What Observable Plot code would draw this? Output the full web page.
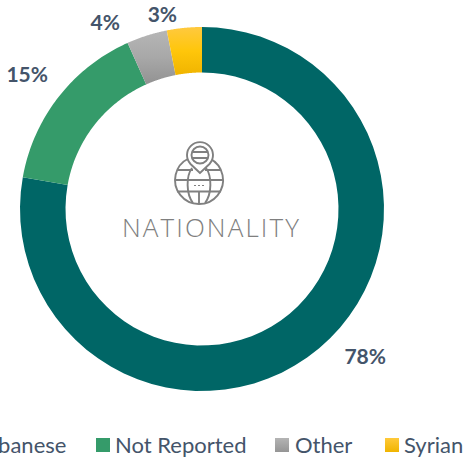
<!DOCTYPE html>
<html><head><meta charset="utf-8">
<script src="https://cdn.jsdelivr.net/npm/d3@7"></script>
<script src="https://cdn.jsdelivr.net/npm/@observablehq/plot@0.6"></script>
<style>
html,body{margin:0;padding:0;background:#fff;width:465px;height:458px;overflow:hidden}
#root{position:relative;width:465px;height:458px;overflow:hidden}
svg{display:block}
.lg{position:absolute;top:431px;font:22px/28px Lato,sans-serif;color:#44546a;white-space:nowrap}
.sw{position:absolute;top:438px;width:14px;height:14px}
</style></head><body><div id="root"></div>
<script>
const categories = ["Lebanese", "Not Reported", "Other", "Syrian"];
const shares = [77.8, 15.5, 3.6, 3.1];
const percentLabels = ["78%", "15%", "4%", "3%"];
const sliceFills = ["#006666", "#359b6a", "url(#gOther)", "url(#gSyrian)"];
const swatchFills = ["#006666", "#359b6a", "linear-gradient(#b4b4b4,#959595)", "linear-gradient(#ffc93a,#f0b400)"];

const rows = categories.map((name, i) => ({name, share: shares[i], label: percentLabels[i]}));
const pie = d3.pie().value(d => d.share).sort(null)(rows);

const R1 = 182, R0 = 136.5;
const ring = pie.flatMap(s => d3.range(0, 61).map(k => {
  const a = s.startAngle + (s.endAngle - s.startAngle) * k / 60;
  return {name: s.data.name, a};
}));

const labelPlace = {Lebanese: [132.3, 220], "Not Reported": [307.5, 221], Other: [332.4, 210], Syrian: [348.3, 198]};
const labels = rows.map(d => {
  const [deg, r] = labelPlace[d.name], t = deg * Math.PI / 180;
  return {...d, x: r * Math.sin(t), y: -r * Math.cos(t)};
});

function defs() {
  const s = d3.create("svg:g");
  const d = s.append("defs");
  [["gOther", "#b6b6b6", "#929292"], ["gSyrian", "#ffc93f", "#f0b400"]].forEach(([id, a, b]) => {
    const g = d.append("linearGradient").attr("id", id).attr("x1", 0).attr("x2", 0).attr("y1", 0).attr("y2", 1);
    g.append("stop").attr("offset", "0%").attr("stop-color", a);
    g.append("stop").attr("offset", "50%").attr("stop-color", id === "gSyrian" ? "#ffc60a" : "#a8a8a8");
    g.append("stop").attr("offset", "100%").attr("stop-color", b);
  });
  return s.node();
}

function icon() {
  const g = d3.create("svg:g")
    .attr("transform", "translate(199,180)")
    .attr("fill", "none").attr("stroke", "#808080").attr("stroke-width", 1.9);
  g.append("path").attr("d", "M-10.5,-21.5 A24,24 0 1 0 11,-21.3");
  g.append("path").attr("d", "M-22,-10 H-6 M6,-10 H22 M-24,0 H24 M-22,11.5 H22");
  g.append("path").attr("d", "M0,24 V11.5");
  g.append("path").attr("d", "M-7,-12 C-13,-4 -13,14 -6,23 M7,-12 C13,-4 13,14 6,23");
  g.append("path").attr("d", "M-5,5.5 H-3 M-1,5.5 H1 M3,5.5 H5").attr("stroke-width", 1.2);
  const pin = g.append("g").attr("transform", "translate(1,-25)");
  pin.append("path").attr("d", "M0,18 L-9.5,9 A13,13 0 1 1 9.5,9 Z").attr("fill", "#fff");
  pin.append("circle").attr("r", 8.5);
  pin.append("path").attr("d", "M-8,-3 H8 M-8,3 H8");
  return g.node();
}

const chart = Plot.plot({
  width: 465, height: 458,
  margin: 0,
  x: {domain: [-202, 263], range: [0, 465], axis: null},
  y: {domain: [-209, 249], range: [0, 458], axis: null},
  color: {domain: categories, range: sliceFills},
  style: {background: "#fff"},
  marks: [
    defs,
    Plot.area(ring, {
      x1: d => R0 * Math.sin(d.a), y1: d => -R0 * Math.cos(d.a),
      x2: d => R1 * Math.sin(d.a), y2: d => -R1 * Math.cos(d.a),
      z: "name", fill: "name", curve: "linear"
    }),
    Plot.text(labels, {
      x: "x", y: "y", text: "label", fill: "#44546a",
      fontFamily: "Lato, sans-serif", fontWeight: 700, fontSize: 21
    }),
    icon,
    Plot.text(["NATIONALITY"], {
      x: () => 9, y: () => 19, text: d => d, fill: "#7f7f7f",
      fontFamily: "'Open Sans', sans-serif", fontWeight: 300, fontSize: 26
    })
  ]
});

d3.select(chart).selectAll("text")
  .filter(function() { return this.textContent === "NATIONALITY"; })
  .style("letter-spacing", "2.1px");

const root = document.getElementById("root");
root.appendChild(chart);
const swatchX = [-42, 96, 275, 385], textX = [-24, 115, 295, 404];
categories.forEach((name, i) => {
  const sw = document.createElement("div");
  sw.className = "sw"; sw.style.left = swatchX[i] + "px"; sw.style.background = swatchFills[i];
  const tx = document.createElement("div");
  tx.className = "lg"; tx.style.left = textX[i] + "px"; tx.textContent = name;
  root.append(sw, tx);
});
</script></body></html>
